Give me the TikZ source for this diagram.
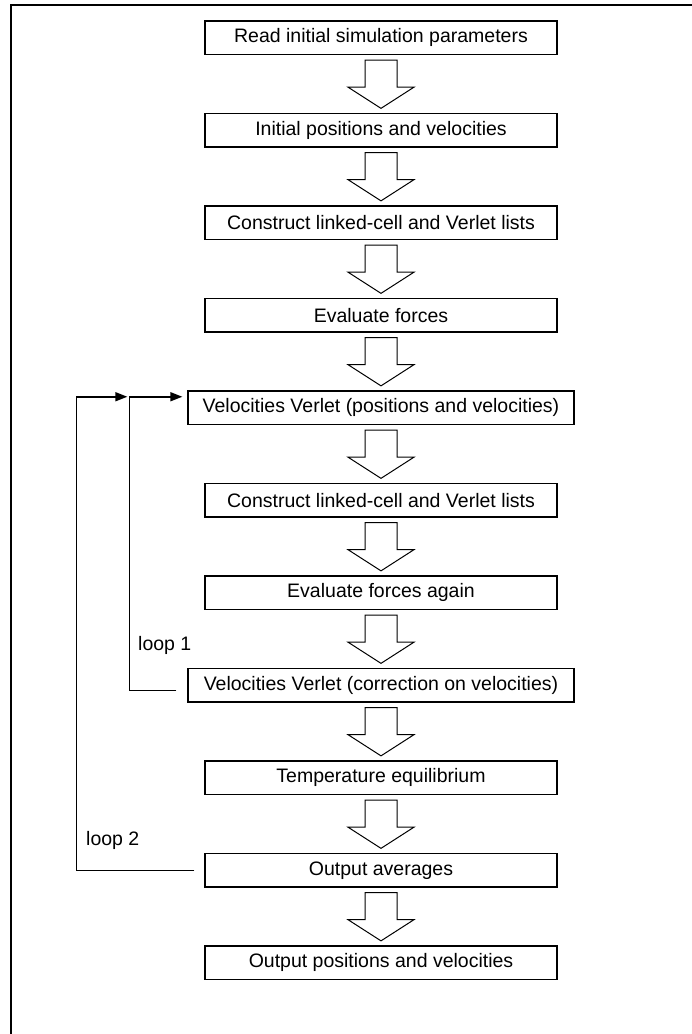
\documentclass[tikz,border=0pt]{standalone}
\usepackage{fontspec}
\setmainfont{Liberation Sans}
\usetikzlibrary{arrows.meta,calc}
\def\bigdown#1#2{%
  \draw[bigarrow] ($(#1.south)+(-16,5)$) -- ($(#1.south)+(16,5)$) -- ($(#1.south)+(16,32)$)
    -- ($(#1.south)+(33,32)$) -- ($(#2.north)+(0,-4.5)$) -- ($(#1.south)+(-33,32)$)
    -- ($(#1.south)+(-16,32)$) -- cycle;}
\begin{document}
\begin{tikzpicture}[x=1pt,y=-1pt,
  box/.style={draw,line width=1.3pt,minimum height=33.5pt,inner sep=0pt,
    font=\fontsize{19.5}{23}\selectfont},
  nbox/.style={box,minimum width=352pt},
  wbox/.style={box,minimum width=386pt},
  bigarrow/.style={draw,line width=1pt,fill=white},
  loopline/.style={line width=1.5pt,-{Triangle[length=12pt,width=9pt]}},
  lbl/.style={font=\fontsize{19.5}{23}\selectfont,anchor=west,inner sep=0pt}]
\useasboundingbox (0,0) rectangle (692,1034);
\draw[line width=2pt] (11,1034) -- (11,5) -- (692,5);
\node[nbox] (b1)  at (381,37.75)  {Read initial simulation parameters};
\node[nbox] (b2)  at (381,130.25) {Initial positions and velocities};
\node[nbox] (b3)  at (381,222.75) {Construct linked-cell and Verlet lists};
\node[nbox] (b4)  at (381,315.25) {Evaluate forces};
\node[wbox] (b5)  at (381,407.75) {Velocities Verlet (positions and velocities)};
\node[nbox] (b6)  at (381,500.25) {Construct linked-cell and Verlet lists};
\node[nbox] (b7)  at (381,592.75) {Evaluate forces again};
\node[wbox] (b8)  at (381,685.25) {Velocities Verlet (correction on velocities)};
\node[nbox] (b9)  at (381,777.75) {Temperature equilibrium};
\node[nbox] (b10) at (381,870.25) {Output averages};
\node[nbox] (b11) at (381,962.75) {Output positions and velocities};
\bigdown{b1}{b2}
\bigdown{b2}{b3}
\bigdown{b3}{b4}
\bigdown{b4}{b5}
\bigdown{b5}{b6}
\bigdown{b6}{b7}
\bigdown{b7}{b8}
\bigdown{b8}{b9}
\bigdown{b9}{b10}
\bigdown{b10}{b11}
\draw[loopline] ($(b8.west)+(-11,5)$) -| ($(b5.west)+(-58,-11)$) -- ($(b5.west)+(-5,-11)$);
\draw[loopline] ($(b10.west)+(-10,0)$) -| ($(b5.west)+(-111,-11)$) -- ($(b5.west)+(-60,-11)$);
\node[lbl] (l1) at (138,645) {loop 1};
\node[lbl] (l2) at (86,840) {loop 2};
\end{tikzpicture}
\end{document}
